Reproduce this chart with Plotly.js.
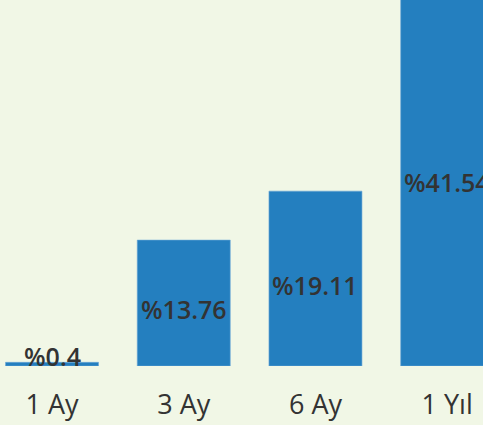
<!DOCTYPE html>
<html>
<head>
<meta charset="utf-8">
<script src="https://cdn.plot.ly/plotly-3.0.1.min.js"></script>
<style>html,body{margin:0;padding:0;background:#f1f7e6;}#chart{width:483px;height:425px;}</style>
</head>
<body>
<div id="chart"></div>
<script>
const categories = ["1 Ay", "3 Ay", "6 Ay", "1 Yıl"];
const values = [0.4, 13.76, 19.11, 41.54];
const labels = ["%0.4", "%13.76", "%19.11", "%41.54"];

const FONT = "Open Sans, sans-serif";
const bg = "#f1f7e6";

const bar = {
  type: "bar",
  x: categories,
  y: values,
  marker: {color: "#247fbf", line: {color: "#6aa6d6", width: 0.6}},
  hoverinfo: "none"
};

const annotations = categories.map((c, i) => ({
  x: c,
  y: values[i] / 2,
  xref: "x", yref: "y",
  text: labels[i],
  showarrow: false,
  yanchor: "middle",
  yshift: values[i] < 2 ? 8 : -6,
  font: {family: FONT, size: 25, color: "#333333", weight: 600}
}));

const layout = {
  width: 483, height: 425,
  margin: {l: 0, r: 0, t: 0, b: 59},
  paper_bgcolor: bg, plot_bgcolor: bg,
  showlegend: false,
  bargap: 0.294,
  xaxis: {
    range: [-0.395, 3.272],
    showgrid: false, zeroline: false, showline: false,
    ticks: "", ticklabelstandoff: 20,
    tickfont: {family: FONT, size: 27, color: "#333333"}
  },
  yaxis: {
    range: [0, 40],
    showgrid: false, zeroline: false, showline: false,
    showticklabels: false, ticks: ""
  },
  annotations: annotations
};

Plotly.newPlot("chart", [bar], layout, {displayModeBar: false, staticPlot: true});
</script>
</body>
</html>
